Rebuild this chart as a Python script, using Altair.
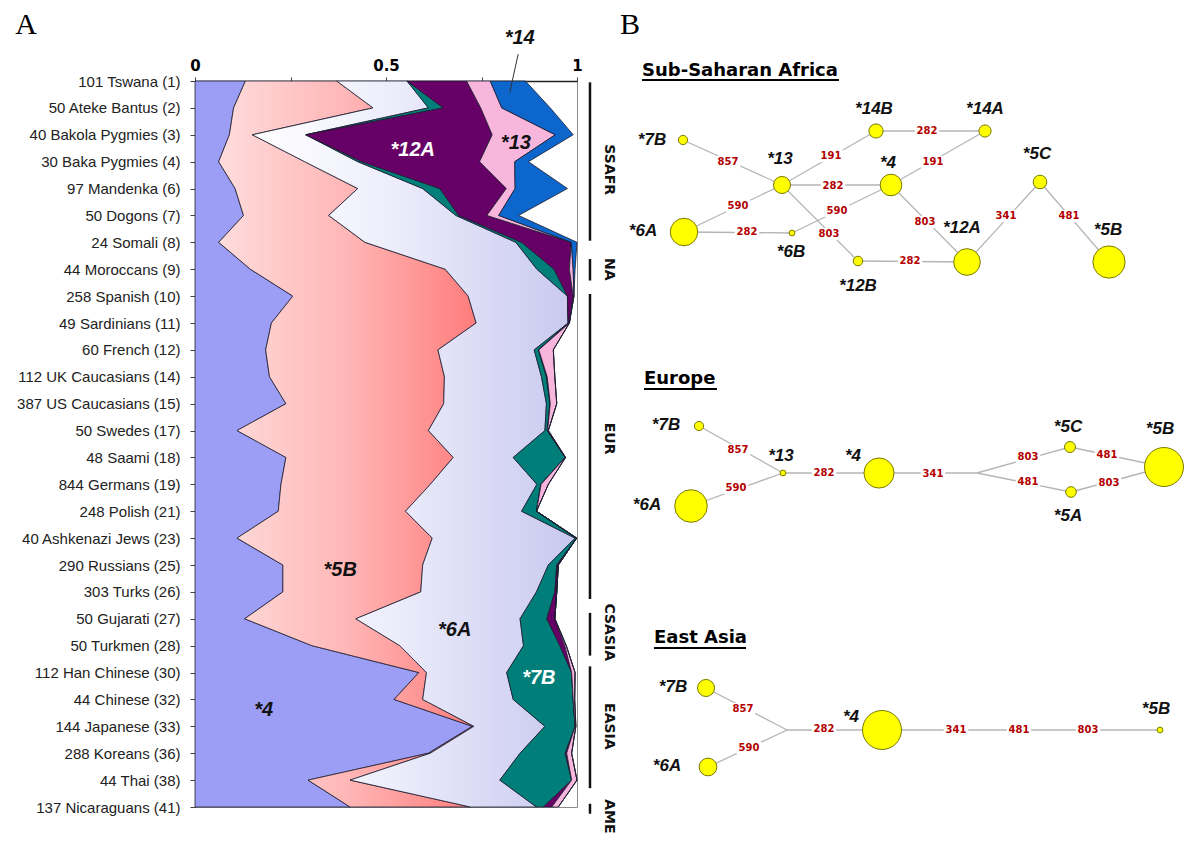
import json
import altair as alt
import pandas as pd

# ---------------- Panel A data ----------------
populations = ["101 Tswana (1)", "50 Ateke Bantus (2)", "40 Bakola Pygmies (3)", "30 Baka Pygmies (4)",
               "97 Mandenka (6)", "50 Dogons (7)", "24 Somali (8)", "44 Moroccans (9)", "258 Spanish (10)",
               "49 Sardinians (11)", "60 French (12)", "112 UK Caucasians (14)", "387 US Caucasians (15)",
               "50 Swedes (17)", "48 Saami (18)", "844 Germans (19)", "248 Polish (21)",
               "40 Ashkenazi Jews (23)", "290 Russians (25)", "303 Turks (26)", "50 Gujarati (27)",
               "50 Turkmen (28)", "112 Han Chinese (30)", "44 Chinese (32)", "144 Japanese (33)",
               "288 Koreans (36)", "44 Thai (38)", "137 Nicaraguans (41)"]

# cumulative right-hand boundary of each allele band (fraction of chromosomes)
edge_4 = [0.132, 0.101, 0.090, 0.062, 0.105, 0.127, 0.062, 0.145, 0.256, 0.200, 0.185, 0.195, 0.238, 0.110,
          0.238, 0.225, 0.218, 0.110, 0.230, 0.230, 0.130, 0.306, 0.586, 0.521, 0.726, 0.611, 0.296, 0.406]
edge_5B = [0.371, 0.466, 0.150, 0.287, 0.426, 0.350, 0.445, 0.655, 0.715, 0.736, 0.636, 0.653, 0.651, 0.611,
           0.676, 0.616, 0.551, 0.621, 0.596, 0.591, 0.421, 0.536, 0.606, 0.596, 0.730, 0.616, 0.406, 0.721]
edge_6A = [0.555, 0.611, 0.290, 0.426, 0.596, 0.683, 0.840, 0.895, 0.975, 0.977, 0.888, 0.907, 0.920, 0.916,
           0.833, 0.895, 0.855, 0.995, 0.925, 0.894, 0.851, 0.860, 0.816, 0.833, 0.916, 0.851, 0.798, 0.894]
edge_7B = [0.555, 0.650, 0.290, 0.436, 0.641, 0.690, 0.855, 0.940, 0.975, 0.977, 0.899, 0.920, 0.929, 0.922,
           0.969, 0.905, 0.894, 0.999, 0.947, 0.942, 0.921, 0.955, 0.986, 0.990, 0.995, 0.969, 0.986, 0.912]
edge_12A = [0.711, 0.748, 0.778, 0.745, 0.815, 0.764, 0.985, 0.980, 0.990, 0.980, 0.900, 0.922, 0.930, 0.923,
            0.969, 0.906, 0.894, 0.999, 0.951, 0.947, 0.942, 0.968, 0.986, 0.990, 0.995, 0.973, 0.986, 0.934]
edge_13 = [0.773, 0.803, 0.943, 0.837, 0.838, 0.795, 0.985, 0.990, 0.992, 0.980, 0.938, 0.942, 0.947, 0.925,
           0.970, 0.925, 0.894, 0.999, 0.951, 0.947, 0.942, 0.972, 0.995, 0.994, 0.997, 0.986, 1.000, 0.951]
edge_14 = [0.865, 0.930, 0.990, 0.873, 0.975, 0.847, 1.000, 0.995, 0.992, 0.980, 0.938, 0.942, 0.947, 0.925,
           0.970, 0.925, 0.894, 0.999, 0.951, 0.947, 0.942, 0.972, 0.995, 0.994, 0.997, 0.986, 1.000, 0.951]

alleles = ["*4", "*5B", "*6A", "*7B", "*12A", "*13", "*14"]
edges_cum = [edge_4, edge_5B, edge_6A, edge_7B, edge_12A, edge_13, edge_14]

# band annotations (label, x fraction, row)
band_labels = ["*4", "*5B", "*6A", "*7B", "*12A", "*13", "*14"]
band_label_x = [0.18, 0.38, 0.68, 0.90, 0.57, 0.84, 0.85]
band_label_row = [23.4, 18.2, 20.4, 22.2, 2.55, 2.3, -1.6]
band_label_color = ["#111111", "#111111", "#111111", "#ffffff", "#ffffff", "#111111", "#111111"]

# *14 pointer (x fraction, row)
pointer_x = [0.846]
pointer_row = [-1.0]
pointer_x2 = [0.824]
pointer_row2 = [0.42]

# geographic regions (label, first row, last row, label row)
regions = ["SSAFR", "NA", "EUR", "CSASIA", "EASIA", "AME"]
region_start = [0.05, 6.62, 7.92, 19.78, 21.77, 26.88]
region_end = [5.94, 7.42, 19.26, 21.37, 26.30, 27.25]
region_mid = [3.3, 7.0, 13.3, 20.5, 24.0, 27.35]

# ---------------- Panel B data (network layout, image units) ----------------
net_region = (["SSA"] * 11) + (["EUR"] * 7) + (["EAS"] * 4)
net_node = ["*7B", "*13", "*14B", "*14A", "*4", "*5C", "*6A", "*6B", "*12B", "*12A", "*5B",
            "*7B", "*13", "*4", "*5C", "*5A", "*5B", "*6A",
            "*7B", "*6A", "*4", "*5B"]
net_x = [683, 782, 876, 985, 891, 1040, 684, 792, 858, 967, 1109,
         699, 783, 879, 1070, 1071, 1164, 691,
         706, 708, 882, 1160]
net_y = [141, 186, 132, 132, 186, 183, 233, 234, 262, 263, 263,
         427, 474, 474, 448, 493, 468, 507,
         689, 768, 731, 731]
net_weight = [0.053, 0.181, 0.126, 0.093, 0.292, 0.116, 0.472, 0.021, 0.057, 0.442, 0.650,
              0.053, 0.021, 0.567, 0.075, 0.071, 0.950, 0.665,
              0.181, 0.196, 0.950, 0.021]
net_label_x = [652, 780, 874, 985, 888, 1037, 643, 791, 858, 962, 1108,
               666, 781, 853, 1068, 1068, 1160, 647,
               673, 667, 851, 1156]
net_label_y = [141, 160, 110, 110, 164, 155, 232, 253, 287, 229, 231,
               426, 457, 457, 428, 517, 430, 506,
               688, 767, 718, 710]

# branch points without a node
junction_region = ["EUR", "EAS"]
junction_x = [977, 787]
junction_y = [474, 731]

links = [("SSA", "*7B", "*13"), ("SSA", "*13", "*14B"), ("SSA", "*14B", "*14A"), ("SSA", "*4", "*14A"),
         ("SSA", "*13", "*4"), ("SSA", "*6A", "*13"), ("SSA", "*6B", "*4"), ("SSA", "*6A", "*6B"),
         ("SSA", "*13", "*12B"), ("SSA", "*12B", "*12A"), ("SSA", "*4", "*12A"), ("SSA", "*12A", "*5C"),
         ("SSA", "*5C", "*5B"),
         ("EUR", "*7B", "*13"), ("EUR", "*6A", "*13"), ("EUR", "*13", "*4"), ("EUR", "*4", "J"),
         ("EUR", "J", "*5C"), ("EUR", "J", "*5A"), ("EUR", "*5C", "*5B"), ("EUR", "*5A", "*5B"),
         ("EAS", "*7B", "J"), ("EAS", "*6A", "J"), ("EAS", "J", "*4"), ("EAS", "*4", "*5B")]

snp_text = ["857", "191", "282", "191", "282", "590", "590", "282", "803", "282", "803", "341", "481",
            "857", "590", "282", "341", "803", "481", "481", "803",
            "857", "590", "282", "341", "481", "803"]
snp_x = [728, 831, 927, 933, 833, 738, 837, 747, 829, 910, 925, 1006, 1069,
         738, 736, 824, 933, 1028, 1028, 1107, 1109,
         743, 749, 824, 956, 1019, 1088]
snp_y = [163, 157, 132, 163, 187, 207, 212, 233, 235, 262, 223, 217, 217,
         451, 489, 474, 475, 458, 483, 456, 484,
         710, 749, 730, 731, 731, 731]

titles = ["Sub-Saharan Africa", "Europe", "East Asia"]
title_x = [642, 644, 654]
title_y = [77, 385, 644]
title_x2 = [839, 717, 746]
underline_y = [81, 390, 649]

panel_letters = ["A", "B"]
panel_letter_x = [26, 630]
panel_letter_y = [35, 35]

# ---------------- Build tables ----------------
rows = []
for k, a in enumerate(alleles):
    for i in range(len(populations)):
        left = 0.0 if k == 0 else edges_cum[k - 1][i]
        rows.append({"allele": a, "row": i, "left": left, "right": edges_cum[k][i]})
bands = pd.DataFrame(rows)

band_lab_df = pd.DataFrame({"t": band_labels, "x": band_label_x, "row": band_label_row, "c": band_label_color})
pointer_df = pd.DataFrame({"x": pointer_x, "r": pointer_row, "x2": pointer_x2, "r2": pointer_row2})
reg_df = pd.DataFrame({"t": regions, "r0": region_start, "r1": region_end, "rm": region_mid})

nodes = pd.DataFrame({"region": net_region, "node": net_node, "x": net_x, "y": net_y, "w": net_weight,
                      "lx": net_label_x, "ly": net_label_y})
pos = {(r, n): (x, y) for r, n, x, y in zip(net_region, net_node, net_x, net_y)}
for r, x, y in zip(junction_region, junction_x, junction_y):
    pos[(r, "J")] = (x, y)
link_df = pd.DataFrame([{"x": pos[(r, a)][0], "y": pos[(r, a)][1], "x2": pos[(r, b)][0], "y2": pos[(r, b)][1]}
                        for r, a, b in links])
snp_df = pd.DataFrame({"t": snp_text, "x": snp_x, "y": snp_y})
title_df = pd.DataFrame({"t": titles, "x": title_x, "y": title_y, "x2": title_x2, "uy": underline_y})
letter_df = pd.DataFrame({"t": panel_letters, "x": panel_letter_x, "y": panel_letter_y})

# ---------------- Scales ----------------
W, H = 382, 726
X0, Y0 = 195, 82  # plot origin in the layout units of panel B
XA = alt.Scale(domain=[0, 1], nice=False, zero=False)
YA = alt.Scale(domain=[0, 27], nice=False, zero=False, reverse=True)
XB = alt.Scale(domain=[0, 1200], range=[-X0, 1200 - X0], nice=False, zero=False)
YB = alt.Scale(domain=[0, 844], range=[-Y0, 844 - Y0], nice=False, zero=False)

label_expr = json.dumps(populations) + "[datum.value]"
y_axis = alt.Axis(values=list(range(len(populations))), labelExpr=label_expr, title=None, grid=False,
                  domain=False, ticks=True, tickSize=5, tickColor="#444444", labelFont="Liberation Sans",
                  labelFontSize=15, labelColor="#222222", labelPadding=10, orient="left")
x_axis = alt.Axis(values=[0, 0.25, 0.5, 0.75, 1], orient="top", title=None, grid=False,
                  labelExpr="datum.value == 0 ? '0' : datum.value == 0.5 ? '0.5' : datum.value == 1 ? '1' : ''",
                  labelFont="DejaVu Sans", labelFontWeight="bold", labelFontSize=15, labelColor="#000000",
                  domainColor="#222222", domainWidth=1.5, tickColor="#444444", tickSize=4, labelPadding=4,
                  labelFlush=False)


def grad(stops):
    return alt.Gradient(gradient="linear", x1=0, x2=1, y1=0, y2=0,
                        stops=[alt.GradientStop(color=c, offset=o) for o, c in stops])


fills = {
    "*4": "#9c9ef6",
    "*5B": grad([(0, "#ffdcdc"), (0.5, "#ffb6b6"), (1, "#ff7c7c")]),
    "*6A": grad([(0, "#ffffff"), (0.4, "#efeffc"), (1, "#c8c8f0")]),
    "*7B": "#007f7a",
    "*12A": "#660066",
    "*13": "#f9b6dd",
    "*14": "#0d66cc",
}

layers = []
for k, a in enumerate(alleles):
    first = k == 0
    layers.append(
        alt.Chart(bands).transform_filter(alt.datum.allele == a)
        .mark_area(orient="horizontal", fill=fills[a], stroke="#1c1c30", strokeWidth=0.8, opacity=1,
                   interpolate="linear")
        .encode(y=alt.Y("row:Q", scale=YA, axis=y_axis if first else None),
                x=alt.X("left:Q", scale=XA, axis=x_axis if first else None),
                x2="right:Q")
    )

# *14 pointer line
layers.append(
    alt.Chart(pointer_df).mark_rule(color="#333333", strokeWidth=1).encode(
        x=alt.X("x:Q", scale=XA, axis=None), y=alt.Y("r:Q", scale=YA, axis=None),
        x2="x2:Q", y2="r2:Q")
)

layers.append(
    alt.Chart(band_lab_df).mark_text(font="Liberation Sans", fontStyle="italic", fontWeight="bold",
                                     fontSize=20).encode(
        x=alt.X("x:Q", scale=XA, axis=None), y=alt.Y("row:Q", scale=YA, axis=None),
        text="t:N", color=alt.Color("c:N", scale=None))
)

layers.append(
    alt.Chart(reg_df).mark_rule(color="#111111", strokeWidth=2.5).encode(
        x=alt.XDatum(1.034, scale=XA, axis=None), y=alt.Y("r0:Q", scale=YA, axis=None), y2="r1:Q")
)
layers.append(
    alt.Chart(reg_df).mark_text(font="DejaVu Sans", fontWeight="bold", fontSize=14, angle=90,
                                color="#111111").encode(
        x=alt.XDatum(1.085, scale=XA, axis=None), y=alt.Y("rm:Q", scale=YA, axis=None), text="t:N")
)

# ---------------- Panel B layers ----------------
layers.append(
    alt.Chart(link_df).mark_rule(color="#b5b5b5", strokeWidth=1.3).encode(
        x=alt.X("x:Q", scale=XB, axis=None), y=alt.Y("y:Q", scale=YB, axis=None), x2="x2:Q", y2="y2:Q")
)
layers.append(
    alt.Chart(snp_df).mark_point(shape="M-1,-0.5L1,-0.5L1,0.5L-1,0.5Z", filled=True, color="white",
                                 opacity=1, size=600).encode(
        x=alt.X("x:Q", scale=XB, axis=None), y=alt.Y("y:Q", scale=YB, axis=None))
)
layers.append(
    alt.Chart(snp_df).mark_text(font="DejaVu Sans", fontWeight="bold", fontSize=10, color="#b30000").encode(
        x=alt.X("x:Q", scale=XB, axis=None), y=alt.Y("y:Q", scale=YB, axis=None), text="t:N")
)
layers.append(
    alt.Chart(nodes).mark_circle(fill="#ffff00", stroke="#7a7a00", strokeWidth=1, opacity=1).encode(
        x=alt.X("x:Q", scale=XB, axis=None), y=alt.Y("y:Q", scale=YB, axis=None),
        size=alt.Size("w:Q", scale=alt.Scale(domain=[0, 1], range=[0, 1600], zero=True), legend=None))
)
layers.append(
    alt.Chart(nodes).mark_text(font="Liberation Sans", fontStyle="italic", fontWeight="bold", fontSize=17,
                               color="#111111").encode(
        x=alt.X("lx:Q", scale=XB, axis=None), y=alt.Y("ly:Q", scale=YB, axis=None), text="node:N")
)
layers.append(
    alt.Chart(title_df).mark_text(font="DejaVu Sans", fontWeight="bold", fontSize=18, align="left",
                                  baseline="alphabetic", color="#000000").encode(
        x=alt.X("x:Q", scale=XB, axis=None), y=alt.Y("y:Q", scale=YB, axis=None), text="t:N")
)
layers.append(
    alt.Chart(title_df).mark_rule(color="#000000", strokeWidth=2).encode(
        x=alt.X("x:Q", scale=XB, axis=None), x2="x2:Q", y=alt.Y("uy:Q", scale=YB, axis=None))
)
layers.append(
    alt.Chart(letter_df).mark_text(font="Liberation Serif", fontSize=30, baseline="alphabetic",
                                   color="#000000").encode(
        x=alt.X("x:Q", scale=XB, axis=None), y=alt.Y("y:Q", scale=YB, axis=None), text="t:N")
)

chart = (
    alt.layer(*layers)
    .resolve_scale(x="independent", y="independent")
    .properties(width=W, height=H, padding={"left": 7, "top": 1, "right": 5, "bottom": 5},
                background="white")
    .configure_view(stroke="#8c8c8c", strokeWidth=1)
)

chart.save("out.html", embed_options={"renderer": "svg", "actions": False})
